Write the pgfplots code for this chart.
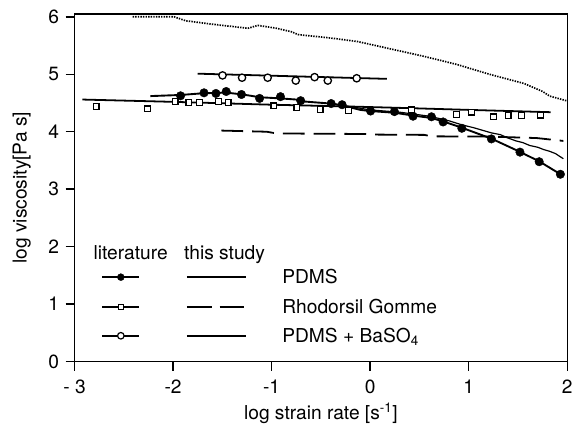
\documentclass[border=0pt]{standalone}
\usepackage{fontspec}
\setmainfont{TeX Gyre Heros}
\usepackage{pgfplots}
\pgfplotsset{compat=1.18}
\begin{document}
\fontsize{19.3bp}{23bp}\selectfont
\begin{tikzpicture}
\begin{axis}[
  scale only axis, width=496bp, height=350bp,
  xmin=-3, xmax=2, ymin=0, ymax=6.05,
  xtick={-3,-2,-1,0,1,2}, xticklabels={- 3,-2,-1,0,1,2},
  ytick={0,1,2,3,4,5,6}, yticklabels={0,1,2,3,4,5,6},
  tick align=outside, xtick pos=bottom, ytick pos=left,
  major tick length=9bp,
  axis line style={line width=1.5bp},
  every tick/.style={black, line width=1.5bp},
  tick label style={font=\fontsize{19.3bp}{23bp}\selectfont},
  xticklabel style={yshift=-3bp},
  label style={font=\fontsize{19.3bp}{23bp}\selectfont},
  xlabel={log strain rate [s\textsuperscript{-1}]},
  ylabel={log viscosity[Pa s]},
  xlabel style={at={(axis description cs:0.5,-0.1486)}, anchor=center},
  ylabel style={at={(axis description cs:-0.1069,0.5)}, anchor=center},
]
% dotted top curve
\addplot[line width=1.7bp, dash pattern=on 1.4bp off 1.2bp] coordinates {
(-2.41,6.0) (-1.99,6.0) (-1.87,5.93) (-1.6,5.87) (-1.24,5.80) (-1.14,5.85)
(-0.95,5.80) (-0.8,5.74) (-0.73,5.69) (-0.4,5.63) (-0.13,5.57) (0.21,5.44)
(0.55,5.31) (0.88,5.17) (1.21,5.0) (1.56,4.84) (1.75,4.70) (1.82,4.62) (1.99,4.54)};
% line through open circles
\addplot[line width=1.8bp] coordinates {(-1.75,5.01) (0.17,4.92)};
% long line through squares
\addplot[line width=1.8bp] coordinates {(-2.92,4.56) (-2.0,4.52) (-1.0,4.47) (-0.23,4.44) (0.41,4.41) (1.0,4.38) (1.83,4.34)};
% PDMS this study (thick)
\addplot[line width=1.9bp] coordinates {
(-2.23,4.62) (-1.92,4.64) (-1.69,4.67) (-1.46,4.68) (-1.3,4.65) (-1.12,4.60)
(-0.91,4.58) (-0.75,4.56) (-0.70,4.53) (-0.40,4.49) (-0.29,4.46) (-0.10,4.38)
(0.0,4.36) (0.25,4.33) (0.44,4.28) (0.62,4.24) (0.74,4.18) (0.93,4.07)
(1.23,3.88) (1.52,3.65) (1.72,3.48) (1.95,3.24)};
% thin wavy line
\addplot[line width=1.2bp] coordinates {
(-0.35,4.48) (0.0,4.38) (0.3,4.34) (0.6,4.27) (0.8,4.19) (0.93,4.12) (1.05,4.07)
(1.15,4.02) (1.23,3.98) (1.32,3.95) (1.4,3.89) (1.48,3.84) (1.55,3.81) (1.62,3.76)
(1.7,3.73) (1.76,3.69) (1.82,3.66) (1.88,3.62) (1.96,3.53)};
% dashed Rhodorsil this study
\addplot[line width=1.8bp, dash pattern=on 22bp off 9bp] coordinates {
(-1.51,4.02) (-1.05,4.0) (-0.95,3.97) (-0.01,3.96) (0.08,3.95) (0.55,3.945)
(0.62,3.92) (1.22,3.915) (1.69,3.89) (1.96,3.84)};
% literature markers
\addplot[only marks, mark=*, mark size=4.3bp, mark options={fill=black, draw=black}] coordinates {
(-1.924,4.625) (-1.686,4.677) (-1.565,4.666) (-1.461,4.70) (-1.306,4.648)
(-1.122,4.58) (-0.91,4.61) (-0.705,4.54) (-0.396,4.49) (-0.285,4.47)
(0.004,4.36) (0.246,4.35) (0.435,4.27) (0.622,4.26) (0.74,4.17) (0.93,4.06)
(1.23,3.875) (1.52,3.645) (1.715,3.478) (1.93,3.26)};
\addplot[only marks, mark=square*, mark size=2.9bp, mark options={fill=white, draw=black, line width=1.3bp}] coordinates {
(-2.78,4.44) (-2.26,4.40) (-1.98,4.53) (-1.84,4.51) (-1.73,4.51) (-1.54,4.53)
(-1.44,4.51) (-0.977,4.45) (-0.745,4.42) (-0.507,4.39) (-0.22,4.37) (0.417,4.38)
(0.878,4.30) (1.03,4.34) (1.25,4.26) (1.40,4.28) (1.536,4.285) (1.73,4.29)};
\addplot[only marks, mark=*, mark size=3.7bp, mark options={fill=white, draw=black, line width=1.3bp}] coordinates {
(-1.498,4.98) (-1.30,4.94) (-1.04,4.94) (-0.755,4.89) (-0.564,4.95) (-0.43,4.89) (-0.137,4.93)};
% legend samples
\addplot[line width=1.6bp] coordinates {(-2.72,1.47) (-2.345,1.47)};
\addplot[line width=1.6bp] coordinates {(-2.72,0.95) (-2.345,0.95)};
\addplot[line width=1.6bp] coordinates {(-2.72,0.45) (-2.345,0.45)};
\addplot[only marks, mark=*, mark size=3.5bp, mark options={fill=black}] coordinates {(-2.53,1.47)};
\addplot[only marks, mark=square*, mark size=2.7bp, mark options={fill=white, draw=black, line width=1.2bp}] coordinates {(-2.53,0.95)};
\addplot[only marks, mark=*, mark size=3.3bp, mark options={fill=white, draw=black, line width=1.2bp}] coordinates {(-2.53,0.45)};
\addplot[line width=1.9bp] coordinates {(-1.86,1.47) (-1.256,1.47)};
\addplot[line width=1.9bp, dash pattern=on 25bp off 8bp] coordinates {(-1.86,0.95) (-1.256,0.95)};
\addplot[line width=1.9bp] coordinates {(-1.86,0.45) (-1.256,0.45)};
\node[anchor=base] at (axis cs:-2.43,1.77) {literature};
\node[anchor=base] at (axis cs:-1.478,1.77) {this study};
\node[anchor=base west, inner sep=0pt] at (axis cs:-0.893,1.355) {PDMS};
\node[anchor=base west, inner sep=0pt] at (axis cs:-0.893,0.835) {Rhodorsil Gomme};
\node[anchor=base west, inner sep=0pt] at (axis cs:-0.893,0.335) {PDMS + BaSO\textsubscript{4}};
\end{axis}
\path (current axis.south west) ++(-75bp,-60bp) coordinate (bl);
\path (current axis.north east) ++(8bp,14bp) coordinate (tr);
\end{tikzpicture}
\end{document}
